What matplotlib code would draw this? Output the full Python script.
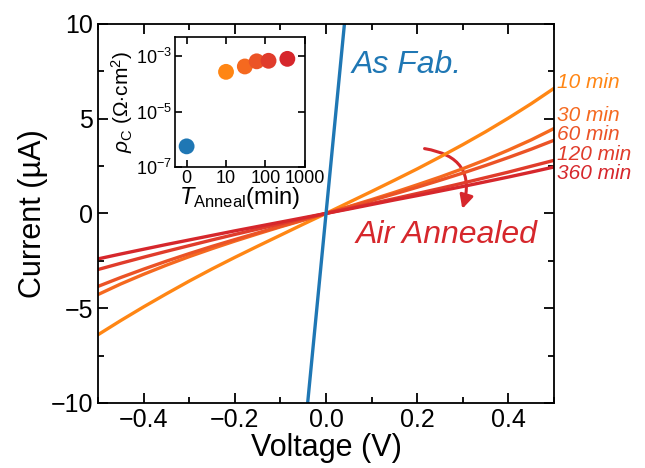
"""I-V curves of as-fabricated and air-annealed contacts, with contact resistivity inset."""

import matplotlib
matplotlib.use("Agg")
import matplotlib.pyplot as plt
from matplotlib.patches import FancyArrowPatch
from matplotlib.ticker import MultipleLocator, FixedLocator, NullLocator

plt.rcParams['font.family'] = ['Liberation Sans', 'DejaVu Sans']
plt.rcParams['mathtext.fontset'] = 'custom'
plt.rcParams['mathtext.rm'] = 'Liberation Sans'
plt.rcParams['mathtext.it'] = 'Liberation Sans:italic'

# --- data ---
voltage = [-0.5, -0.45, -0.4, -0.35, -0.3, -0.25, -0.2, -0.15, -0.1, -0.05, 0.0,
           0.05, 0.1, 0.15, 0.2, 0.25, 0.3, 0.35, 0.4, 0.45, 0.5]

i_10min = [-6.40, -5.65, -4.93, -4.24, -3.57, -2.93, -2.32, -1.73, -1.15, -0.57, 0.0,
           0.58, 1.16, 1.75, 2.35, 2.98, 3.63, 4.31, 5.03, 5.79, 6.60]
i_30min = [-4.28, -3.72, -3.21, -2.73, -2.28, -1.86, -1.46, -1.08, -0.71, -0.36, 0.0,
           0.36, 0.73, 1.11, 1.51, 1.92, 2.36, 2.83, 3.34, 3.88, 4.48]
i_60min = [-3.85, -3.38, -2.94, -2.52, -2.12, -1.74, -1.38, -1.03, -0.68, -0.34, 0.0,
           0.34, 0.68, 1.03, 1.38, 1.75, 2.13, 2.53, 2.95, 3.39, 3.86]
i_120min = [-2.96, -2.63, -2.31, -2.00, -1.70, -1.40, -1.11, -0.83, -0.55, -0.27, 0.0,
            0.26, 0.52, 0.78, 1.05, 1.32, 1.60, 1.89, 2.18, 2.49, 2.80]
i_360min = [-2.40, -2.14, -1.89, -1.64, -1.40, -1.16, -0.92, -0.69, -0.46, -0.23, 0.0,
            0.23, 0.47, 0.71, 0.94, 1.18, 1.42, 1.67, 1.92, 2.18, 2.45]

asfab_v = [-0.05, 0.0, 0.05]
asfab_i = [-12.4, 0.0, 12.4]

anneal_labels = ['10 min', '30 min', '60 min', '120 min', '360 min']
anneal_colors = ['#ff8614', '#f5691f', '#eb5326', '#e03c2b', '#d6272c']
label_y = [6.93, 5.17, 4.14, 3.11, 2.08]

# inset: contact resistivity vs anneal time
anneal_time = [0, 10, 30, 60, 120, 360]
rho_c = [5.6e-7, 2.75e-4, 4.3e-4, 6.6e-4, 6.9e-4, 8.1e-4]
rho_colors = ['#1f77b4'] + anneal_colors

blue = '#1f77b4'
red = '#d6272c'

fig = plt.figure(figsize=(6.45, 4.68), dpi=100)
ax = fig.add_axes([0.152, 0.139, 0.707, 0.810])

curves = [i_10min, i_30min, i_60min, i_120min, i_360min]
for cur, col in zip(curves, anneal_colors):
    ax.plot(voltage, cur, color=col, linewidth=2.4, solid_capstyle='round')
ax.plot(asfab_v, asfab_i, color=blue, linewidth=2.4)

for lab, col, y in zip(anneal_labels, anneal_colors, label_y):
    ax.text(0.507, y, lab, color=col, fontsize=15, style='italic',
            ha='left', va='center', clip_on=False)

ax.text(0.057, 7.83, 'As Fab.', color=blue, fontsize=23, style='italic',
        ha='left', va='center')
ax.text(0.064, -1.16, 'Air Annealed', color=red, fontsize=23, style='italic',
        ha='left', va='center')

arrow = FancyArrowPatch((0.21, 3.44), (0.297, 0.1),
                        connectionstyle='arc3,rad=-0.6', arrowstyle='-|>',
                        mutation_scale=20, color=red, linewidth=2.2)
ax.add_patch(arrow)

ax.set_xlim(-0.5, 0.5)
ax.set_ylim(-10, 10)
ax.xaxis.set_major_locator(MultipleLocator(0.2))
ax.xaxis.set_minor_locator(MultipleLocator(0.1))
ax.yaxis.set_major_locator(MultipleLocator(5))
ax.yaxis.set_minor_locator(MultipleLocator(2.5))
ax.tick_params(which='both', direction='in', top=True, right=True,
               labelsize=18, width=1.3)
ax.tick_params(which='major', length=7)
ax.tick_params(which='minor', length=4)
for sp in ax.spines.values():
    sp.set_linewidth(1.3)
ax.set_xlabel('Voltage (V)', fontsize=22, labelpad=1)
ax.set_ylabel('Current (µA)', fontsize=22, labelpad=2)

# inset
ins = fig.add_axes([0.271, 0.643, 0.2016, 0.278])
ins.scatter(anneal_time, rho_c, s=130, c=rho_colors, zorder=3, linewidths=0)
ins.set_xscale('symlog', linthresh=10, linscale=0.9)
ins.set_yscale('log')
ins.set_xlim(-3, 1000)
ins.set_ylim(1e-7, 5e-3)
ins.xaxis.set_major_locator(FixedLocator([0, 10, 100, 1000]))
ins.xaxis.set_minor_locator(NullLocator())
ins.set_xticklabels(['0', '10', '100', '1000'])
ins.yaxis.set_major_locator(FixedLocator([1e-7, 1e-5, 1e-3]))
ins.yaxis.set_minor_locator(NullLocator())
ins.tick_params(which='both', direction='in', top=True, right=True,
                labelsize=13, width=1.2, length=5, pad=2)
for sp in ins.spines.values():
    sp.set_linewidth(1.2)
ins.set_xlabel(r'$T_{\rm Anneal}$(min)', fontsize=17, labelpad=-1)
ins.set_ylabel(r'$\rho_{\rm C}$ ($\Omega{\cdot}$cm$^2$)', fontsize=15, labelpad=1)

fig.savefig('out.png', dpi=100)
